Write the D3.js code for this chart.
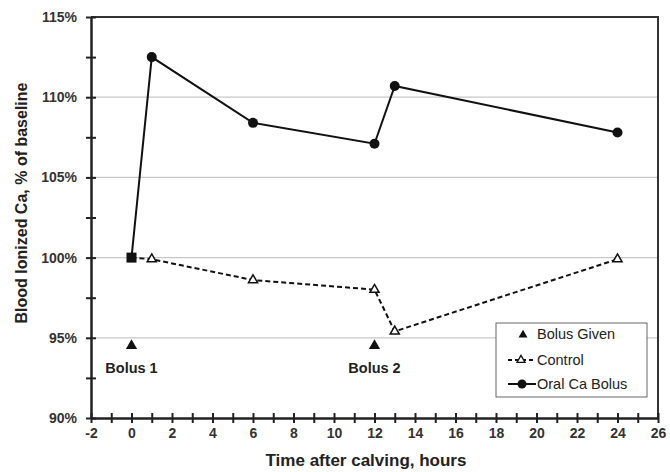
<!DOCTYPE html>
<html>
<head>
<meta charset="utf-8">
<script src="https://cdn.jsdelivr.net/npm/d3@7"></script>
<style>
  body { margin: 0; background: #fff; }
  svg { font-family: "Liberation Sans", Arial, sans-serif; font-weight: bold; }
</style>
</head>
<body>
<div id="chart"></div>
<script>
const width = 670, height = 472;
const margin = {top: 17, right: 12, bottom: 54, left: 91};

// data
const hours = [0, 1, 6, 12, 13, 24];
const oralCa = [100, 112.5, 108.4, 107.1, 110.7, 107.8];
const control = [100, 99.9, 98.6, 98.0, 95.4, 99.9];
const bolusHours = [0, 12];
const bolusLevel = 94.5;
const bolusLabels = ["Bolus 1", "Bolus 2"];
const xTicks = d3.range(-2, 27, 2);
const yTicks = [90, 95, 100, 105, 110, 115];

const svg = d3.select("#chart").append("svg")
    .attr("width", width).attr("height", height);

const x = d3.scaleLinear().domain([-2, 26]).range([margin.left, width - margin.right]);
const y = d3.scaleLinear().domain([90, 115]).range([height - margin.bottom, margin.top]);

// gridlines
svg.append("g")
  .selectAll("line")
  .data(yTicks.filter(d => d > 90 && d < 115))
  .join("line")
    .attr("x1", x(-2)).attr("x2", x(26))
    .attr("y1", d => y(d)).attr("y2", d => y(d))
    .attr("stroke", "#c8c8c8").attr("stroke-width", 1.2);

// top and right border
svg.append("path")
    .attr("d", `M${x(-2)},${y(115)}H${x(26)}V${y(90)}`)
    .attr("fill", "none").attr("stroke", "#333").attr("stroke-width", 2);

// y axis
const yAxis = svg.append("g")
    .attr("transform", `translate(${x(-2)},0)`)
    .call(d3.axisLeft(y).tickValues(d3.range(90, 115.1, 2.5))
      .tickSize(5).tickSizeOuter(0)
      .tickFormat(d => Number.isInteger(d) && d % 5 === 0 ? d + "%" : ""));
yAxis.selectAll(".tick line").attr("x1", -5).attr("x2", 5).attr("stroke", "#222").attr("stroke-width", 2);
yAxis.select(".domain").attr("stroke", "#222").attr("stroke-width", 2.5);
yAxis.selectAll("text").attr("x", -14).attr("font-size", 14).attr("fill", "#333")
    .attr("font-family", "Liberation Sans, Arial, sans-serif").attr("font-weight", "bold");

// x axis
const xAxis = svg.append("g")
    .attr("transform", `translate(0,${y(90)})`)
    .call(d3.axisBottom(x).tickValues(d3.range(-2, 26.1, 1))
      .tickSize(4).tickSizeOuter(0)
      .tickFormat(d => xTicks.includes(d) ? d : ""));
xAxis.selectAll(".tick line").attr("y1", -5).attr("y2", 5).attr("stroke", "#222").attr("stroke-width", 2);
xAxis.select(".domain").attr("stroke", "#222").attr("stroke-width", 2.5);
xAxis.selectAll("text").attr("y", 10).attr("font-size", 14).attr("fill", "#333")
    .attr("font-family", "Liberation Sans, Arial, sans-serif").attr("font-weight", "bold");

// axis titles
svg.append("text")
    .attr("transform", "translate(27,203) rotate(-90)")
    .attr("text-anchor", "middle")
    .attr("font-size", 16).attr("fill", "#222")
    .text("Blood Ionized Ca, % of baseline");
svg.append("text")
    .attr("x", 366).attr("y", 466)
    .attr("text-anchor", "middle")
    .attr("font-size", 17).attr("fill", "#222")
    .text("Time after calving, hours");

// series lines
const line = d3.line().x(d => x(d[0])).y(d => y(d[1]));
const ctrlData = hours.map((h, i) => [h, control[i]]);
const oralData = hours.map((h, i) => [h, oralCa[i]]);

svg.append("path").datum(ctrlData)
    .attr("d", line).attr("fill", "none")
    .attr("stroke", "#111").attr("stroke-width", 2)
    .attr("stroke-dasharray", "5,3");
svg.append("path").datum(oralData)
    .attr("d", line).attr("fill", "none")
    .attr("stroke", "#111").attr("stroke-width", 2);

const triOpen = d3.symbol().type(d3.symbolTriangle).size(36);

svg.append("g").selectAll("path")
  .data(ctrlData.slice(1))
  .join("path")
    .attr("d", triOpen)
    .attr("transform", d => `translate(${x(d[0])},${y(d[1])})`)
    .attr("fill", "#fff").attr("stroke", "#111").attr("stroke-width", 1.5);

svg.append("g").selectAll("circle")
  .data(oralData.slice(1))
  .join("circle")
    .attr("cx", d => x(d[0])).attr("cy", d => y(d[1]))
    .attr("r", 5).attr("fill", "#111");

// start point drawn as a square
svg.append("rect")
    .attr("x", x(hours[0]) - 5).attr("y", y(oralCa[0]) - 5)
    .attr("width", 10).attr("height", 10).attr("fill", "#111");

// bolus markers
const triFilled = d3.symbol().type(d3.symbolTriangle).size(55);
svg.append("g").selectAll("path")
  .data(bolusHours)
  .join("path")
    .attr("d", triFilled)
    .attr("transform", d => `translate(${x(d)},${y(bolusLevel)})`)
    .attr("fill", "#111");
svg.append("g").selectAll("text")
  .data(bolusHours)
  .join("text")
    .attr("x", d => x(d)).attr("y", y(bolusLevel) + 27)
    .attr("text-anchor", "middle")
    .attr("font-size", 14.5).attr("fill", "#222")
    .text((d, i) => bolusLabels[i]);

// legend
const lg = svg.append("g").attr("transform", "translate(496,323)");
lg.append("rect").attr("width", 151).attr("height", 74)
    .attr("fill", "#fff").attr("stroke", "#666").attr("stroke-width", 1);
const lgRows = [
  {label: "Bolus Given", y: 11},
  {label: "Control", y: 37},
  {label: "Oral Ca Bolus", y: 61}
];
lg.selectAll("text").data(lgRows).join("text")
    .attr("x", 41)
    .attr("y", d => d.y + 5)
    .attr("font-size", 14.5).attr("font-weight", "normal").attr("fill", "#222")
    .text(d => d.label);
lg.append("path").attr("d", triFilled.size(35))
    .attr("transform", "translate(27,12)").attr("fill", "#111");
lg.append("line").attr("x1", 12).attr("x2", 40).attr("y1", 37).attr("y2", 37)
    .attr("stroke", "#111").attr("stroke-width", 2).attr("stroke-dasharray", "4,3");
lg.append("path").attr("d", d3.symbol().type(d3.symbolTriangle).size(28))
    .attr("transform", "translate(25,37)")
    .attr("fill", "#fff").attr("stroke", "#111").attr("stroke-width", 1.3);
lg.append("line").attr("x1", 12).attr("x2", 40).attr("y1", 61).attr("y2", 61)
    .attr("stroke", "#111").attr("stroke-width", 2);
lg.append("circle").attr("cx", 26).attr("cy", 61).attr("r", 4.5).attr("fill", "#111");
</script>
</body>
</html>
